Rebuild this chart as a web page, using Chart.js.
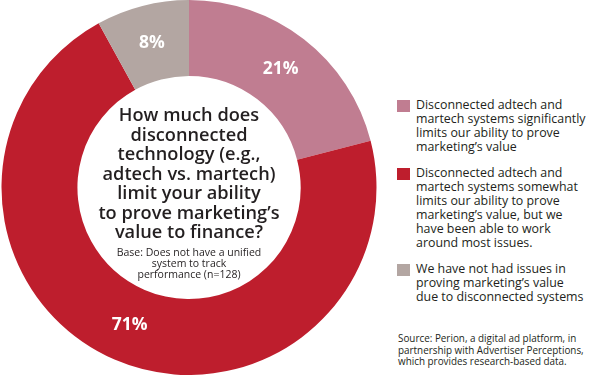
<!DOCTYPE html>
<html><head><meta charset="utf-8">
<script src="https://cdn.jsdelivr.net/npm/chart.js@4"></script>
<style>
html,body{margin:0;padding:0;background:#fff;width:600px;height:375px;overflow:hidden;font-family:"Open Sans",sans-serif;}
#wrap{position:absolute;left:0;top:0;width:378px;height:375px;}
#center{position:absolute;left:79px;width:220px;top:105px;text-align:center;color:#231f20;}
#q{font-size:18.2px;line-height:19.5px;font-weight:600;}
#base{font-size:10.5px;line-height:11.2px;margin-top:5px;}
#legend{position:absolute;left:397px;top:98px;width:200px;color:#231f20;font-size:12.4px;line-height:14px;}
.item{position:relative;padding-left:19px;margin-bottom:12px;}
.sw{position:absolute;left:0;top:2px;width:13px;height:12px;}
#source{position:absolute;left:398px;top:333px;width:200px;font-size:9.9px;line-height:11.6px;color:#231f20;}
</style></head>
<body>
<div id="wrap"><canvas id="c"></canvas></div>
<div id="center"><div id="q">How much does<br>disconnected<br>technology (e.g.,<br>adtech vs. martech)<br>limit your ability<br>to prove marketing’s<br>value to finance?</div>
<div id="base">Base: Does not have a unified<br>system to track<br>performance (n=128)</div></div>
<div id="legend"></div>
<div id="source">Source: Perion, a digital ad platform, in<br>partnership with Advertiser Perceptions,<br>which provides research-based data.</div>
<script>
const categories = [
  ["Disconnected adtech and", "martech systems significantly", "limits our ability to prove", "marketing’s value"],
  ["Disconnected adtech and", "martech systems somewhat", "limits our ability to prove", "marketing’s value, but we", "have been able to work", "around most issues."],
  ["We have not had issues in", "proving marketing’s value", "due to disconnected systems"]
];
const values = [21, 71, 8];
const valueLabels = ["21%", "71%", "8%"];
const colors = ["#c07d91", "#be1e2d", "#b3a6a2"];

const lg = document.getElementById('legend');
categories.forEach((lines, i) => {
  const d = document.createElement('div'); d.className = 'item';
  d.innerHTML = '<span class="sw" style="background:' + colors[i] + '"></span>' + lines.join('<br>');
  lg.appendChild(d);
});

const labelPlugin = {
  id: 'vals',
  afterDatasetsDraw(chart) {
    const ctx = chart.ctx;
    const meta = chart.getDatasetMeta(0);
    ctx.save();
    ctx.fillStyle = '#fff';
    ctx.font = 'bold 17.5px "Open Sans"';
    ctx.textAlign = 'center'; ctx.textBaseline = 'middle';
    meta.data.forEach((arc, i) => {
      const p = arc.tooltipPosition();
      ctx.fillText(valueLabels[i], p.x, p.y);
    });
    ctx.restore();
  }
};

new Chart(document.getElementById('c'), {
  type: 'doughnut',
  data: { labels: categories.map(l => l.join(' ')), datasets: [{ data: values, backgroundColor: colors, borderWidth: 0 }] },
  options: {
    responsive: true, maintainAspectRatio: false, animation: false,
    cutout: '59.5%',
    layout: { padding: 0 },
    plugins: { legend: { display: false }, tooltip: { enabled: false } }
  },
  plugins: [labelPlugin]
});
</script>
</body></html>
